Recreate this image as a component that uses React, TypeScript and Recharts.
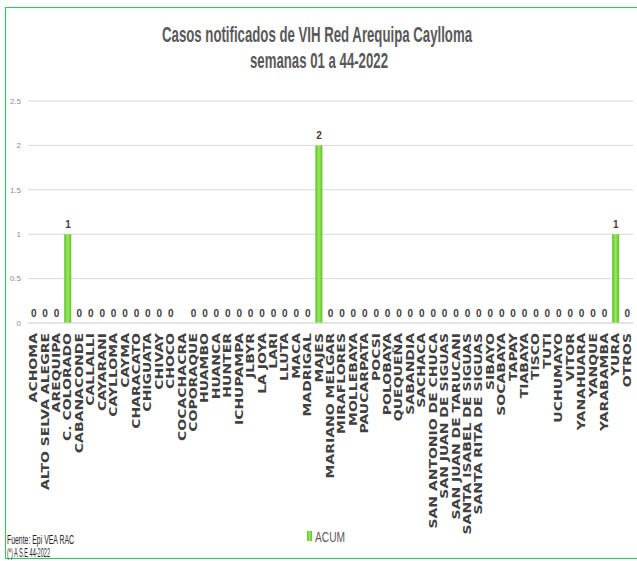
import { Bar, CartesianGrid, ComposedChart, LabelList, Line, XAxis, YAxis } from 'recharts'

const districts = [
  'ACHOMA', 'ALTO SELVA ALEGRE', 'AREQUIPA', 'C. COLORADO', 'CABANACONDE', 'CALLALLI',
  'CAYARANI', 'CAYLLOMA', 'CAYMA', 'CHARACATO', 'CHIGUATA', 'CHIVAY', 'CHOCO',
  'COCACHACRA', 'COPORAQUE', 'HUAMBO', 'HUANCA', 'HUNTER', 'ICHUPAMPA', 'JLBYR',
  'LA JOYA', 'LARI', 'LLUTA', 'MACA', 'MADRIGAL', 'MAJES', 'MARIANO MELGAR',
  'MIRAFLORES', 'MOLLEBAYA', 'PAUCARPATA', 'POCSI', 'POLOBAYA', 'QUEQUEÑA',
  'SABANDIA', 'SACHACA', 'SAN ANTONIO DE CHUCA', 'SAN JUAN DE SIGUAS',
  'SAN JUAN DE TARUCANI', 'SANTA ISABEL DE SIGUAS', 'SANTA RITA DE SIGUAS', 'SIBAYO',
  'SOCABAYA', 'TAPAY', 'TIABAYA', 'TISCO', 'TUTI', 'UCHUMAYO', 'VITOR', 'YANAHUARA',
  'YANQUE', 'YARABAMBA', 'YURA', 'OTROS',
]

// COCACHACRA has no value in the source chart
const acum: (number | null)[] = [
  0, 0, 0, 1, 0, 0, 0, 0, 0, 0, 0, 0, 0,
  null, 0, 0, 0, 0, 0, 0, 0, 0, 0, 0, 0, 2, 0,
  0, 0, 0, 0, 0, 0, 0, 0, 0, 0,
  0, 0, 0, 0, 0, 0, 0, 0, 0, 0, 0, 0,
  0, 0, 1, 0,
]

const yTicks = [0, 0.5, 1, 1.5, 2, 2.5]

const chartData = districts.map((name, i) => ({ name, ACUM: acum[i] }))

const narrow = "'Liberation Sans Narrow', 'Liberation Sans', Arial, sans-serif"

function DistrictTick({ x, y, payload }: any) {
  return (
    <g transform={`translate(${x},${y})`}>
      <text
        x={0}
        y={0}
        dy={3.5}
        textAnchor="end"
        transform="rotate(-90) scale(1.4,1)"
        fontFamily="'DejaVu Sans', Verdana, sans-serif"
        fontWeight="bold"
        fontSize={10}
        fill="#404040"
      >
        {payload.value}
      </text>
    </g>
  )
}

export default function App() {
  return (
    <div style={{ position: 'absolute', left: 0, top: 0, width: 637, height: 561, background: '#fff' }}>
      <ComposedChart
        width={637}
        height={561}
        data={chartData}
        margin={{ top: 101, right: 4, left: 0, bottom: 0 }}
        barSize={7}
      >
        <defs>
          <linearGradient id="acumFill" x1="0" y1="0" x2="1" y2="0">
            <stop offset="0%" stopColor="#5cbf2c" />
            <stop offset="50%" stopColor="#9bea58" />
            <stop offset="100%" stopColor="#5cbf2c" />
          </linearGradient>
        </defs>
        <CartesianGrid vertical={false} stroke="#d9d9d9" />
        <XAxis
          dataKey="name"
          interval={0}
          height={238}
          tickLine={false}
          tickSize={0}
          tickMargin={10}
          stroke="#d9d9d9"
          tick={<DistrictTick />}
        />
        <YAxis
          width={28}
          domain={[0, 2.5]}
          ticks={yTicks}
          axisLine={false}
          tickLine={false}
          tickSize={5}
          tickMargin={2}
          tick={{ fontSize: 8, fill: '#8c8c8c', fontFamily: narrow }}
        />
        <Bar dataKey="ACUM" fill="url(#acumFill)" isAnimationActive={false} />
        {/* invisible series that carries the value labels, zeros included */}
        <Line
          dataKey="ACUM"
          stroke="none"
          dot={false}
          activeDot={false}
          legendType="none"
          isAnimationActive={false}
        >
          <LabelList
            dataKey="ACUM"
            position="top"
            offset={6}
            fontSize={10}
            fontWeight="bold"
            fontFamily={narrow}
            fill="#404040"
          />
        </Line>
      </ComposedChart>
      <svg
        width={637}
        height={561}
        style={{ position: 'absolute', left: 0, top: 0, pointerEvents: 'none' }}
      >
        <defs>
          <linearGradient id="legendFill" x1="0" y1="0" x2="1" y2="0">
            <stop offset="0%" stopColor="#5cbf2c" />
            <stop offset="50%" stopColor="#9bea58" />
            <stop offset="100%" stopColor="#5cbf2c" />
          </linearGradient>
        </defs>
        <rect x={5.5} y={7.5} width={640} height={551} fill="none" stroke="#3cbf6a" strokeWidth={1.2} />
        <text
          x={162}
          y={42}
          fontSize={22}
          fontWeight="bold"
          fontFamily={narrow}
          fill="#595959"
          textLength={310}
          lengthAdjust="spacingAndGlyphs"
        >
          Casos notificados de VIH Red Arequipa Caylloma
        </text>
        <text
          x={250}
          y={68}
          fontSize={22}
          fontWeight="bold"
          fontFamily={narrow}
          fill="#595959"
          textLength={138}
          lengthAdjust="spacingAndGlyphs"
        >
          semanas 01 a 44-2022
        </text>
        <text x={7} y={544} fontSize={12} fontFamily={narrow} fill="#262626" textLength={67} lengthAdjust="spacingAndGlyphs">
          Fuente: Epi VEA RAC
        </text>
        <text x={7} y={557} fontSize={12} fontFamily={narrow} fill="#262626" textLength={43} lengthAdjust="spacingAndGlyphs">
          (*) A S.E 44-2022
        </text>
        <rect x={307} y={531} width={5} height={10} fill="url(#legendFill)" />
        <text x={315} y={542} fontSize={15} fontFamily={narrow} fill="#595959" textLength={30} lengthAdjust="spacingAndGlyphs">
          ACUM
        </text>
      </svg>
    </div>
  )
}
